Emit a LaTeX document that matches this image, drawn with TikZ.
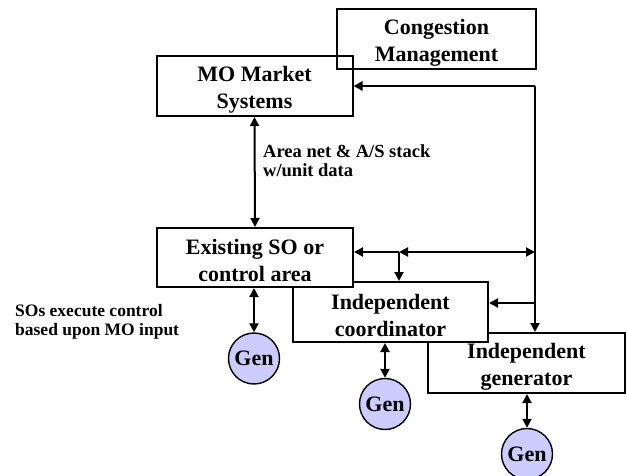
\documentclass[tikz,border=0pt]{standalone}
\usepackage{fontspec}
\setmainfont{Liberation Serif}
\usetikzlibrary{positioning, arrows.meta}
\definecolor{genfill}{RGB}{204,204,255}
\newcommand{\lowtext}{\rule{0pt}{22pt}}
\tikzset{
box/.style={draw, line width=2pt, minimum width=196pt, minimum height=60pt, align=center, inner sep=0pt,
  font=\fontsize{22}{27}\selectfont\bfseries},
gen/.style={draw, circle, line width=1.4pt, fill=genfill, minimum size=51pt, inner sep=0pt, font=\fontsize{22}{26}\selectfont\bfseries},
note/.style={anchor=north west, align=left, inner sep=0pt, font=\fontsize{17.5}{19}\selectfont\bfseries},
link/.style={line width=2pt, -{Triangle[length=9pt, width=9pt]}},
both/.style={line width=2pt, {Triangle[length=9pt, width=9pt]}-{Triangle[length=9pt, width=9pt]}},
}

\begin{document}
\begin{tikzpicture}[x=1pt, y=-1pt]
    \useasboundingbox (0,0) rectangle (627,476);

    %boxes, back to front
    \node[box, minimum width=199pt] (cong) at (436.5,39.5) {\lowtext Congestion\\Management};
    \node[box] (mo) at (254.5,86) {\lowtext MO Market\\Systems};
    \node[box, fill=white, minimum width=197pt] (igen) at (526.5,363) {\lowtext Independent\\generator};
    \node[box, fill=white, minimum width=195pt] (coord) at (390.5,312) {\lowtext Independent\\coordinator};
    \node[box, fill=white, minimum height=59pt] (so) at (255,257.5) {\lowtext Existing SO or\\control area};

    %generators
    \node[gen] (g1) at (254,358.5) {Gen};
    \node[gen] (g2) at (385,404) {Gen};
    \node[gen] (g3) at (527,454) {Gen};

    %texts
    \node[note, font=\fontsize{18.5}{19}\selectfont\bfseries] (area) at (263,144) {Area net \& A/S stack\\w/unit data};
    \node[note] (sos) at (15,304) {SOs execute control\\based upon MO input};

    %points on the lines
    \coordinate (jn) at (399,252);
    \coordinate (rt) at (535,252);
    \coordinate (rc) at (535,303);

    %links
    \draw[both] (mo.south) -- (so.north);
    \draw[link] (mo.east -| rt) -- (mo.east);
    \draw[link] (mo.east -| rt) -- (rt |- igen.north);
    \draw[link] (jn) -- (so.east |- jn);
    \draw[both] (jn) -- (rt);
    \draw[link] (jn) -- (jn |- coord.north);
    \draw[link] (rc) -- (coord.east |- rc);

    %generator links
    \draw[both] (so.south -| g1) -- (g1.north);
    \draw[both] (coord.south -| g2) -- (g2.north);
    \draw[both] (igen.south -| g3) -- (g3.north);
\end{tikzpicture}
\end{document}
